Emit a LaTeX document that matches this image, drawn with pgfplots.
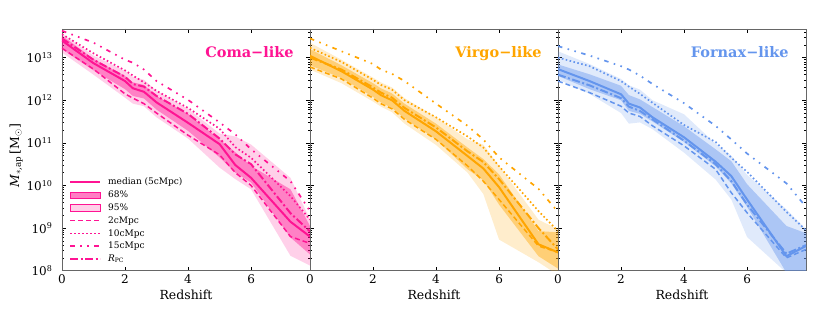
\documentclass[border=0pt]{standalone}
\usepackage{fontspec}
\setmainfont{DejaVu Serif}
\usepackage{pgfplots}
\pgfplotsset{compat=1.18}
\usepackage{pgfplotstable}

\definecolor{coma}{HTML}{FF1493}
\definecolor{virgo}{HTML}{FFA500}
\definecolor{fornax}{HTML}{6495ED}

% lines: z, median (5cMpc), 2cMpc, 10cMpc, 15cMpc, R_PC
\pgfplotstableread{
z     med     c2      c10     c15     rpc
0     2.51e13 1.66e13 3.55e13 4.27e13 2.82e13
1     7.41e12 5.37e12 1.26e13 2.24e13 8.91e12
2     2.82e12 1.41e12 5.01e12 8.91e12 3.55e12
2.25  1.91e12 1.12e12 3.80e12 7.59e12 2.40e12
2.6   1.58e12 8.32e11 2.63e12 5.25e12 2.09e12
3     8.91e11 5.01e11 1.66e12 2.82e12 1.26e12
4     2.95e11 1.51e11 6.61e11 1.02e12 4.79e11
5     9.33e10 5.25e10 2.14e11 3.02e11 1.26e11
5.5   3.02e10 2.00e10 7.94e10 1.58e11 5.37e10
6     1.51e10 1.00e10 4.47e10 7.08e10 3.16e10
7.25  1.41e9  6.31e8  5.62e9  1.26e10 2.24e9
7.87  6.31e8  4.37e8  1.58e9  2.51e9  8.32e8
}\coma

\pgfplotstableread{
z     med     c2      c10     c15     rpc
0     1.10e13 6.03e12 1.70e13 2.82e13 1.00e13
1     4.79e12 3.16e12 7.94e12 1.41e13 5.25e12
2     1.78e12 1.12e12 3.02e12 7.08e12 2.00e12
2.25  1.32e12 8.32e11 2.29e12 5.25e12 1.51e12
2.6   1.00e12 6.31e11 1.78e12 4.17e12 1.15e12
3     5.62e11 3.55e11 1.00e12 2.82e12 6.61e11
4     1.86e11 1.20e11 3.98e11 8.32e11 2.29e11
5     4.90e10 2.88e10 1.41e11 2.51e11 6.31e10
5.5   2.51e10 1.26e10 7.76e10 1.20e11 3.55e10
6     9.12e9  4.68e9  2.82e10 4.57e10 1.41e10
7.25  4.17e8  3.80e8  2.51e9  8.32e9  1.00e9
7.87  2.69e8  2.69e8  8.51e8  2.40e9  3.16e8
}\virgo

\pgfplotstableread{
z     med     c2      c10     c15     rpc
0     5.37e12 2.82e12 1.00e13 1.86e13 3.98e12
1     2.82e12 1.51e12 6.31e12 1.12e13 2.24e12
2     1.38e12 7.24e11 2.82e12 6.31e12 1.12e12
2.25  8.32e11 5.01e11 2.09e12 5.25e12 7.08e11
2.6   6.76e11 4.17e11 1.41e12 3.80e12 5.62e11
3     3.98e11 2.51e11 8.71e11 2.40e12 3.55e11
4     1.35e11 8.51e10 2.63e11 8.51e11 1.12e11
5     3.63e10 2.40e10 1.05e11 2.51e11 3.16e10
5.5   1.66e10 6.76e9  4.47e10 1.20e11 1.26e10
6     4.68e9  2.29e9  2.09e10 5.62e10 3.55e9
7.25  2.19e8  2.00e8  2.40e9  1.12e10 2.51e8
7.87  3.80e8  3.16e8  8.91e8  3.16e9  3.98e8
}\fornax

\pgfplotsset{
    scale only axis, width=248pt, height=241.7pt,
    xmin=0, xmax=7.87, ymin=1e8, ymax=4.7e13,
    xtick={0,2,4,6}, xticklabels={0,2,4,6},
    ytick={1e8,1e9,1e10,1e11,1e12,1e13},
    minor ytick={2e8,3e8,4e8,5e8,6e8,7e8,8e8,9e8,
                 2e9,3e9,4e9,5e9,6e9,7e9,8e9,9e9,
                 2e10,3e10,4e10,5e10,6e10,7e10,8e10,9e10,
                 2e11,3e11,4e11,5e11,6e11,7e11,8e11,9e11,
                 2e12,3e12,4e12,5e12,6e12,7e12,8e12,9e12,
                 2e13,3e13,4e13},
    tick align=inside, major tick length=4pt, minor tick length=2.2pt,
    tick style={black, line width=0.5pt},
    axis line style={black!60, line width=0.8pt},
    xlabel={Redshift},
    xlabel style={at={(rel axis cs:0.5,0)}, anchor=center, yshift=-24pt},
    tick label style={font=\fontsize{12}{14}\selectfont},
    label style={font=\fontsize{12.5}{14}\selectfont},
}
\tikzset{
  band95/.style={draw=none, fill opacity=0.2},
  band68/.style={draw=none, fill opacity=0.42},
  lmed/.style={line width=2pt},
  lc2/.style={line width=1.5pt, dash pattern=on 5pt off 3pt},
  lc10/.style={line width=1.7pt, dash pattern=on 1.6pt off 2.4pt},
  lc15/.style={line width=1.7pt, dash pattern=on 4.5pt off 5.5pt on 1.6pt off 5.5pt on 1.6pt off 5.5pt},
  lrpc/.style={line width=2pt, dash pattern=on 8pt off 2.5pt on 2pt off 2.5pt},
}

\newcommand{\drawlines}[2]{%
  \addplot[lc15, #2, forget plot] table[x=z,y=c15]{#1};
  \addplot[lc10, #2, forget plot] table[x=z,y=c10]{#1};
  \addplot[lc2, #2, forget plot] table[x=z,y=c2]{#1};
  \addplot[lrpc, #2, forget plot] table[x=z,y=rpc]{#1};
  \addplot[lmed, #2, forget plot] table[x=z,y=med]{#1};
}

\begin{document}
\begin{tikzpicture}
\useasboundingbox (0,0) rectangle (831pt,327pt);

% ---------------- Coma ----------------
\begin{semilogyaxis}[at={(62pt,56.3pt)}, anchor=south west,
  yticklabels={10\textsuperscript{8},10\textsuperscript{9},10\textsuperscript{10},10\textsuperscript{11},10\textsuperscript{12},10\textsuperscript{13}},
  yticklabel style={xshift=-6pt},
  ylabel={\textit{M}\textsubscript{$\ast$,ap}\,[M\textsubscript{$\odot$}]},
  ylabel style={at={(rel axis cs:-0.185,0.475)}, anchor=center, rotate=0},
  legend style={draw=none, fill=none, at={(rel axis cs:0.028,0.392)}, anchor=north west,
    font=\fontsize{9}{11}\selectfont, row sep=0.6pt, column sep=5pt, inner sep=0pt},
  legend cell align=left,
]
% 95% band
\addplot[band95, fill=coma, forget plot] coordinates {
 (0,3.63e13)(1,1.12e13)(2,4.90e12)(2.25,3.55e12)(2.6,3.02e12)(3,1.66e12)(4,6.31e11)(5,1.66e11)(5.5,1.41e11)(6,9.12e10)(7.25,1.51e10)(7.87,1.58e9)
 (7.87,1.32e8)(7.25,2.24e8)(6,8.13e9)(5.5,1.41e10)(5,2.63e10)(4,1.26e11)(3,3.98e11)(2.6,7.24e11)(2.25,8.32e11)(2,1.15e12)(1,3.98e12)(0,1.32e13)};
% 68% band
\addplot[band68, fill=coma, forget plot] coordinates {
 (0,3.31e13)(1,9.33e12)(2,3.72e12)(2.25,2.63e12)(2.6,2.29e12)(3,1.26e12)(4,4.79e11)(5,1.20e11)(5.5,6.03e10)(6,2.88e10)(7.25,8.13e9)(7.87,1.12e9)
 (7.87,2.40e8)(7.25,6.03e8)(6,1.17e10)(5.5,2.00e10)(5,4.57e10)(4,1.91e11)(3,6.03e11)(2.6,1.10e12)(2.25,1.26e12)(2,1.82e12)(1,5.01e12)(0,1.58e13)};
\drawlines{\coma}{coma}
\addlegendimage{legend image code/.code={\draw[coma, line width=2pt] (0pt,0pt) -- (30pt,0pt);}}
\addlegendentry{median (5cMpc)}
\addlegendimage{legend image code/.code={\fill[coma, fill opacity=0.55] (0pt,-3.3pt) rectangle (30pt,3.3pt); \draw[coma, draw opacity=0.6, line width=0.6pt] (0pt,-3.3pt) rectangle (30pt,3.3pt);}}
\addlegendentry{68\%}
\addlegendimage{legend image code/.code={\fill[coma, fill opacity=0.2] (0pt,-3.3pt) rectangle (30pt,3.3pt); \draw[coma, draw opacity=0.25, line width=0.6pt] (0pt,-3.3pt) rectangle (30pt,3.3pt);}}
\addlegendentry{95\%}
\addlegendimage{legend image code/.code={\draw[coma, line width=1.5pt, dash pattern=on 5pt off 3pt] (0pt,0pt) -- (30pt,0pt);}}
\addlegendentry{2cMpc}
\addlegendimage{legend image code/.code={\draw[coma, line width=1.7pt, dash pattern=on 1.6pt off 2.4pt] (0pt,0pt) -- (30pt,0pt);}}
\addlegendentry{10cMpc}
\addlegendimage{legend image code/.code={\draw[coma, line width=1.7pt, dash pattern=on 4.5pt off 5.5pt on 1.6pt off 5.5pt on 1.6pt off 5.5pt] (0pt,0pt) -- (30pt,0pt);}}
\addlegendentry{15cMpc}
\addlegendimage{legend image code/.code={\draw[coma, line width=2pt, dash pattern=on 8pt off 2.5pt on 2pt off 2.5pt] (0pt,0pt) -- (30pt,0pt);}}
\addlegendentry{\textit{R}\textsubscript{PC}}
\node[anchor=north east, inner sep=0pt, text=coma, font=\bfseries\fontsize{14.5}{16}\selectfont] at (rel axis cs:0.935,0.927) {Coma−like};
\end{semilogyaxis}

% ---------------- Virgo ----------------
\begin{semilogyaxis}[at={(310pt,56.3pt)}, anchor=south west, yticklabels={}]
\addplot[band95, fill=virgo, forget plot] coordinates {
 (0,2.24e13)(1,8.91e12)(2,3.39e12)(2.25,2.63e12)(2.6,2.00e12)(3,1.12e12)(4,3.98e11)(5,1.20e11)(5.5,9.12e10)(6,2.88e10)(7.25,1.58e9)(7.87,9.33e8)
 (7.87,7.94e7)(7.25,1.58e8)(6,5.37e8)(5.5,6.31e9)(5,2.00e10)(4,8.91e10)(3,2.82e11)(2.6,5.25e11)(2.25,7.08e11)(2,9.33e11)(1,2.51e12)(0,5.25e12)};
\addplot[band68, fill=virgo, forget plot] coordinates {
 (0,1.58e13)(1,6.61e12)(2,2.51e12)(2.25,1.91e12)(2.6,1.45e12)(3,8.32e11)(4,2.82e11)(5,7.76e10)(5.5,4.17e10)(6,1.82e10)(7.25,8.51e8)(7.87,7.94e8)
 (7.87,1.12e8)(7.25,2.19e8)(6,3.55e9)(5.5,1.32e10)(5,2.40e10)(4,1.20e11)(3,3.72e11)(2.6,6.61e11)(2.25,8.91e11)(2,1.20e12)(1,3.31e12)(0,6.61e12)};
\drawlines{\virgo}{virgo}
\node[anchor=north east, inner sep=0pt, text=virgo, font=\bfseries\fontsize{14.5}{16}\selectfont] at (rel axis cs:0.935,0.927) {Virgo−like};
\end{semilogyaxis}

% ---------------- Fornax ----------------
\begin{semilogyaxis}[at={(558pt,56.3pt)}, anchor=south west, yticklabels={}]
\addplot[band95, fill=fornax, forget plot] coordinates {
 (0,1.41e13)(1,7.08e12)(2,3.16e12)(2.25,2.24e12)(2.6,1.78e12)(3,1.00e12)(4,4.68e11)(5,9.55e10)(5.5,5.01e10)(6,1.78e10)(7.25,2.75e9)(7.87,9.33e8)
 (7.87,8.91e7)(7.25,8.91e7)(6,6.17e8)(5.5,4.68e9)(5,1.38e10)(4,5.89e10)(3,2.09e11)(2.6,3.02e11)(2.25,2.82e11)(2,5.01e11)(1,1.41e12)(0,3.09e12)};
\addplot[band68, fill=fornax, forget plot] coordinates {
 (0,6.92e12)(1,4.07e12)(2,2.19e12)(2.25,1.32e12)(2.6,1.05e12)(3,6.92e11)(4,2.45e11)(5,7.08e10)(5.5,3.72e10)(6,1.07e10)(7.25,1.12e9)(7.87,7.59e8)
 (7.87,8.91e7)(7.25,8.91e7)(6,3.16e9)(5.5,1.12e10)(5,2.82e10)(4,1.05e11)(3,3.16e11)(2.6,4.79e11)(2.25,5.62e11)(2,1.00e12)(1,1.82e12)(0,3.72e12)};
\drawlines{\fornax}{fornax}
\node[anchor=north east, inner sep=0pt, text=fornax, font=\bfseries\fontsize{14.5}{16}\selectfont] at (rel axis cs:0.931,0.927) {Fornax−like};
\end{semilogyaxis}
\end{tikzpicture}
\end{document}
